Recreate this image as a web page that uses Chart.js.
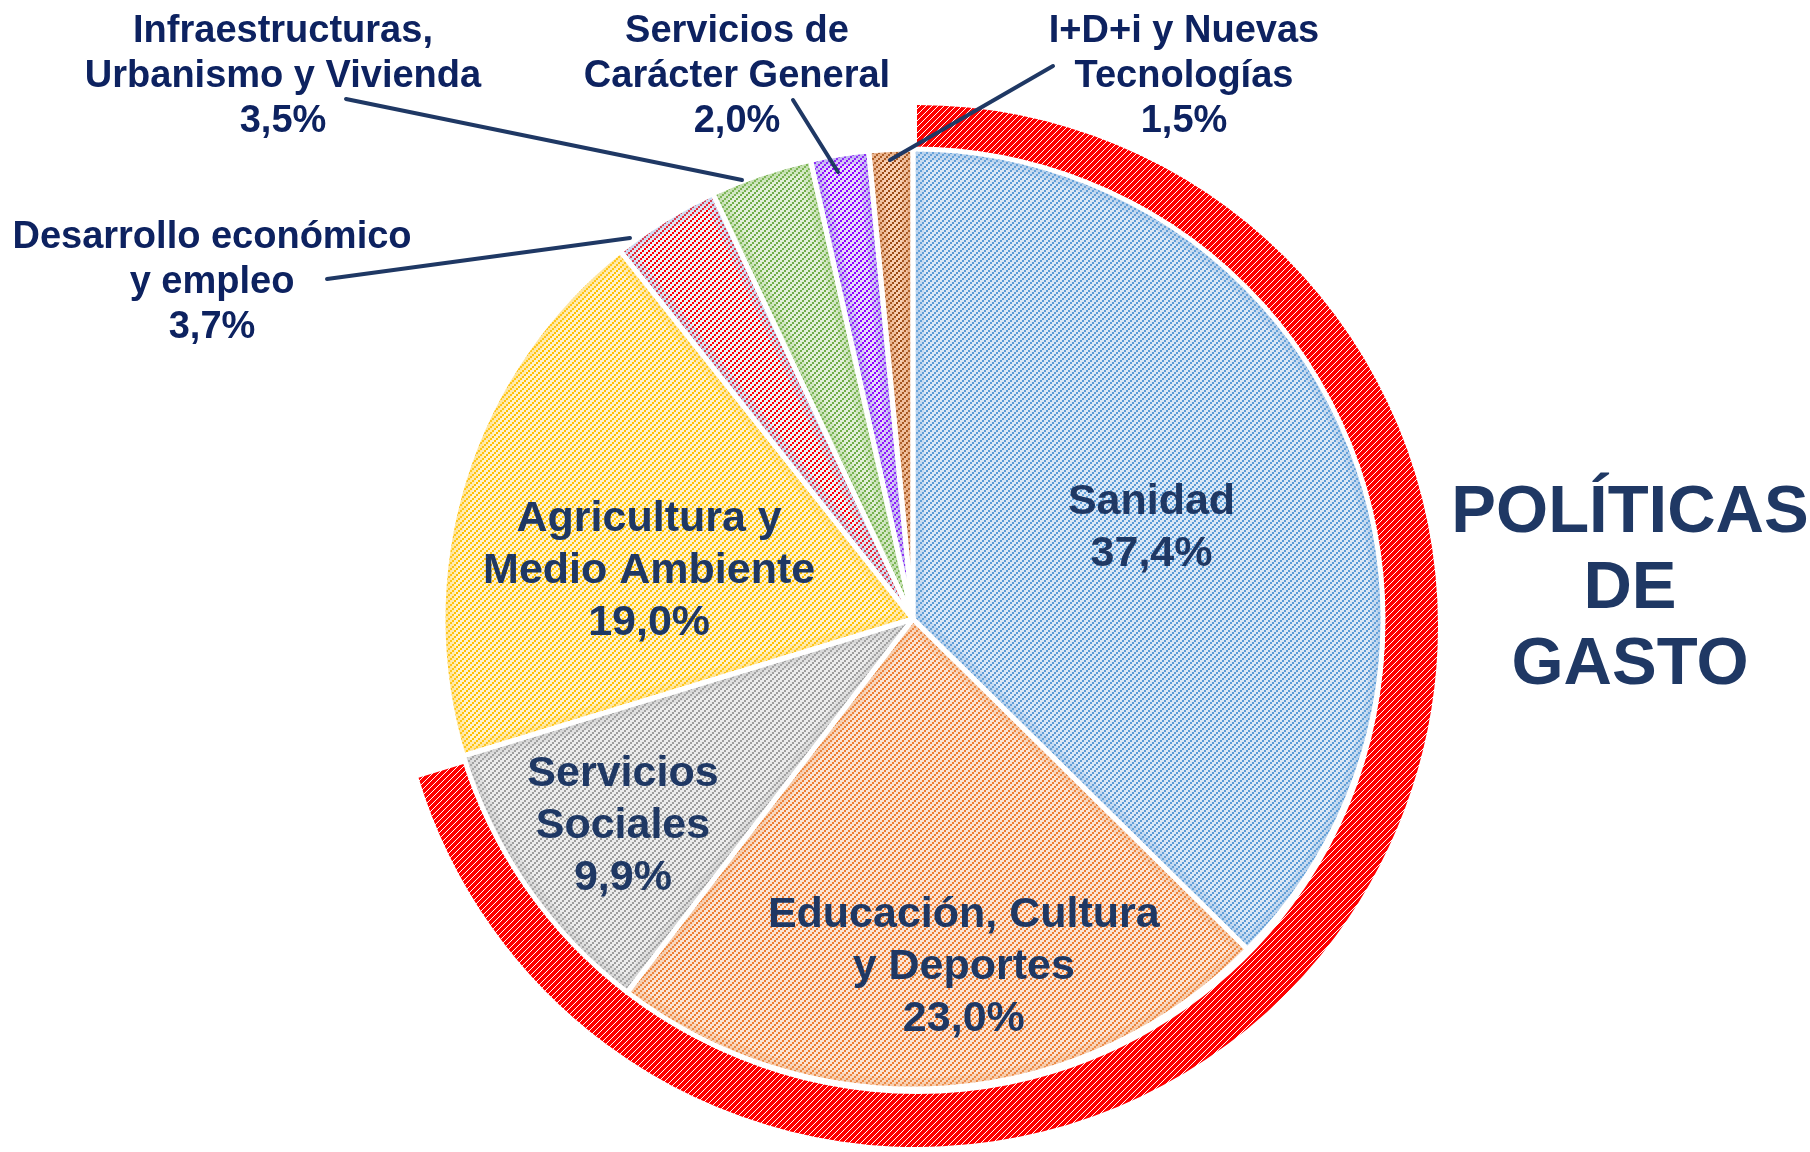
<!DOCTYPE html>
<html><head><meta charset="utf-8">
<script src="https://cdn.jsdelivr.net/npm/chart.js@4.4.1/dist/chart.umd.min.js"></script>
<style>
html,body{margin:0;padding:0;background:#fff;}
#wrap{position:relative;width:1810px;height:1152px;}
.layer{position:absolute;left:0;top:0;width:1810px;height:1152px;}
</style>
</head><body><div id="wrap">
<div class="layer"><canvas id="ring"></canvas></div>
<div class="layer"><canvas id="pie"></canvas></div>
</div>
<script>
// ---- data ----
const categories = [
  ['Sanidad'],
  ['Educación, Cultura', 'y Deportes'],
  ['Servicios', 'Sociales'],
  ['Agricultura y', 'Medio Ambiente'],
  ['Desarrollo económico', 'y empleo'],
  ['Infraestructuras,', 'Urbanismo y Vivienda'],
  ['Servicios de', 'Carácter General'],
  ['I+D+i y Nuevas', 'Tecnologías']
];
const shares = [37.4, 23.0, 9.9, 19.0, 3.7, 3.5, 2.0, 1.5];
const highlightedCount = 3; // first three policies are wrapped by the red ring
const titleLines = ['POLÍTICAS', 'DE', 'GASTO'];

// ---- styles ----
const fillColors  = ['#dbe7f6', '#fbe4d4', '#ececec', '#fff2cc', '#eef1fa', '#e2efd9', '#e6dafc', '#f8cfb2'];
const hatchColors = ['#5b9bd5', '#ed7d31', '#9e9e9e', '#ffc000', '#ff0000', '#70ad47', '#8f00ff', '#9c4a14'];
const glowColors  = ['#7fb0e0', '#f2a46e', '#b5b5b5', '#ffd24d', '#9db5e3', '#95c675', '#8c7de8', '#d08850'];
const inkInside = '#1f3864';
const inkOutside = '#0d2260';

function dotHatch(bg, fg) {
  const s = 6, c = document.createElement('canvas');
  c.width = s; c.height = s;
  const g = c.getContext('2d');
  g.fillStyle = bg; g.fillRect(0, 0, s, s);
  g.fillStyle = fg;
  g.fillRect(0, 4, 2, 2); g.fillRect(2, 2, 2, 2); g.fillRect(4, 0, 2, 2);
  return g.createPattern(c, 'repeat');
}
function lineHatch(bg, fg) {
  const s = 6, c = document.createElement('canvas');
  c.width = s; c.height = s;
  const g = c.getContext('2d');
  g.fillStyle = bg; g.fillRect(0, 0, s, s);
  g.fillStyle = fg;
  for (let i = 0; i < s; i++) g.fillRect(i, s - 1 - i, 1, 1);
  return g.createPattern(c, 'repeat');
}

const highlighted = shares.slice(0, highlightedCount).reduce((a, b) => a + b, 0);
const ringValues = [highlighted, shares.reduce((a, b) => a + b, 0) - highlighted];

const fmt = v => v.toFixed(1).replace('.', ',') + '%';

// label layout
const insideLayout = [
  {k: 0.55, dx: 0, dy: 9},
  {k: 0.734, dx: 27, dy: 4},
  {k: 0.751, dx: 0, dy: 6},
  {k: 0.588, dx: 0, dy: 34}
];
const outsideLayout = {
  4: {x: 212, y: 238, line: [327, 279, 630, 238]},
  5: {x: 283, y: 32, line: [346, 99, 742, 180]},
  6: {x: 737, y: 32, line: [793, 100, 838, 172]},
  7: {x: 1184, y: 32, line: [1053, 66, 890, 160]}
};

const overlay = {
  id: 'overlay',
  afterDatasetsDraw(chart) {
    const ctx = chart.ctx;
    const meta = chart.getDatasetMeta(0);
    // soft inner edge
    meta.data.forEach((arc, i) => {
      const p = arc.getProps(['x', 'y', 'startAngle', 'endAngle', 'outerRadius'], true);
      ctx.save();
      ctx.beginPath();
      ctx.moveTo(p.x, p.y);
      ctx.arc(p.x, p.y, p.outerRadius, p.startAngle, p.endAngle);
      ctx.closePath();
      ctx.clip();
      ctx.strokeStyle = glowColors[i];
      ctx.globalAlpha = 0.2;
      [22, 12, 5].forEach(w => { ctx.lineWidth = w; ctx.stroke(); });
      ctx.restore();
    });
    // white separators
    meta.data.forEach(arc => {
      const p = arc.getProps(['x', 'y', 'startAngle', 'endAngle', 'outerRadius'], true);
      ctx.save();
      ctx.beginPath();
      ctx.moveTo(p.x, p.y);
      ctx.arc(p.x, p.y, p.outerRadius, p.startAngle, p.endAngle);
      ctx.closePath();
      ctx.lineWidth = 5;
      ctx.lineJoin = 'round';
      ctx.strokeStyle = '#ffffff';
      ctx.stroke();
      ctx.restore();
    });
    // inside labels
    ctx.save();
    ctx.textAlign = 'center';
    ctx.textBaseline = 'middle';
    ctx.fillStyle = inkInside;
    ctx.font = 'bold 43px "Liberation Sans", Arial, sans-serif';
    insideLayout.forEach((L, i) => {
      const arc = meta.data[i];
      const p = arc.getProps(['x', 'y', 'startAngle', 'endAngle', 'outerRadius'], true);
      const a = (p.startAngle + p.endAngle) / 2;
      const cx = p.x + Math.cos(a) * p.outerRadius * L.k + L.dx;
      const cy = p.y + Math.sin(a) * p.outerRadius * L.k + L.dy;
      const lines = categories[i].concat([fmt(shares[i])]);
      const pitch = 52;
      const top = cy - (lines.length - 1) * pitch / 2;
      lines.forEach((t, j) => ctx.fillText(t, cx, top + j * pitch));
    });
    ctx.restore();
    // outside labels + leader lines
    ctx.save();
    ctx.textAlign = 'center';
    ctx.textBaseline = 'middle';
    ctx.font = 'bold 38px "Liberation Sans", Arial, sans-serif';
    Object.keys(outsideLayout).forEach(key => {
      const i = +key, L = outsideLayout[key];
      const lines = categories[i].concat([fmt(shares[i])]);
      ctx.fillStyle = inkOutside;
      lines.forEach((t, j) => ctx.fillText(t, L.x, L.y + j * 45));
      ctx.beginPath();
      ctx.moveTo(L.line[0], L.line[1]);
      ctx.lineTo(L.line[2], L.line[3]);
      ctx.lineWidth = 4;
      ctx.lineCap = 'round';
      ctx.strokeStyle = inkInside;
      ctx.stroke();
    });
    ctx.restore();
    // title
    ctx.save();
    ctx.textAlign = 'center';
    ctx.textBaseline = 'alphabetic';
    ctx.fillStyle = inkInside;
    ctx.font = 'bold 67px "Liberation Sans", Arial, sans-serif';
    [532, 608, 684].forEach((y, j) => ctx.fillText(titleLines[j], 1630, y));
    ctx.restore();
  }
};

const common = {
  responsive: true,
  maintainAspectRatio: false,
  animation: false,
  events: [],
  plugins: {legend: {display: false}, tooltip: {enabled: false}}
};

// red highlight ring (drawn underneath the pie)
new Chart(document.getElementById('ring'), {
  type: 'doughnut',
  data: {
    labels: ['Sanidad, Educación y Servicios Sociales', 'Resto'],
    datasets: [{
      data: ringValues,
      backgroundColor: [lineHatch('#ff0000', '#ffffff'), 'rgba(0,0,0,0)'],
      borderWidth: 0,
      hoverOffset: 0
    }]
  },
  options: Object.assign({}, common, {
    cutout: 468,
    layout: {padding: {left: 396, top: 105, right: 372, bottom: 5}}
  })
});

// main pie
new Chart(document.getElementById('pie'), {
  type: 'pie',
  data: {
    labels: categories.map(c => c.join(' ')),
    datasets: [{
      data: shares,
      backgroundColor: shares.map((_, i) => dotHatch(fillColors[i], hatchColors[i])),
      borderWidth: 0,
      hoverOffset: 0
    }]
  },
  options: Object.assign({}, common, {
    layout: {padding: {left: 443, top: 149, right: 427, bottom: 63}}
  }),
  plugins: [overlay]
});
</script>
</body></html>
